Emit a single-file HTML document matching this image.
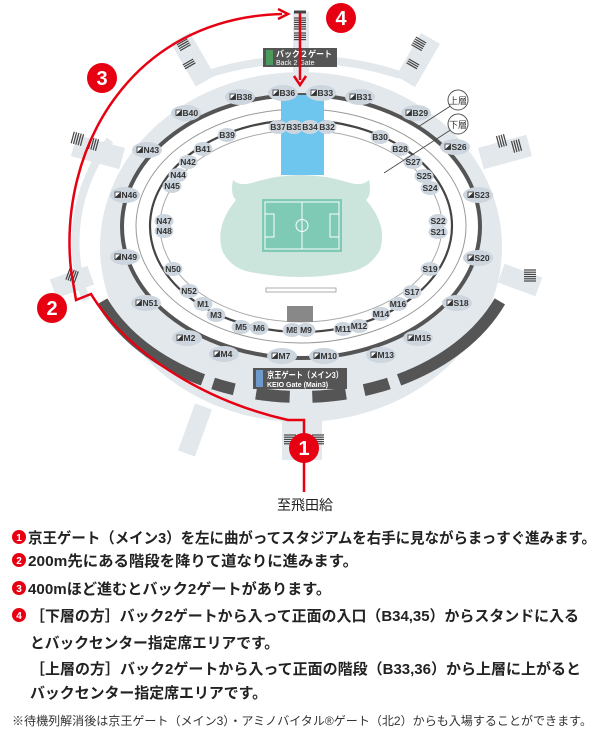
<!DOCTYPE html>
<html><head><meta charset="utf-8">
<style>
html,body{margin:0;padding:0;background:#fff;width:600px;height:750px;overflow:hidden}
svg{display:block}
.lb{font-family:"Liberation Sans",sans-serif;font-weight:bold;font-size:8.5px;fill:#333}
.jt{font-family:"Liberation Sans","Noto Sans CJK JP",sans-serif;font-weight:bold;font-size:15px;fill:#222}
</style></head><body>
<svg id="s" width="600" height="750" viewBox="0 0 600 750" xmlns="http://www.w3.org/2000/svg">
<g fill="#e3e8ec">
<rect x="293" y="12" width="16" height="80"/>
<rect x="-10" y="-25" width="22" height="50" transform="translate(192,60) rotate(-30)"/>
<rect x="-11" y="-25" width="22" height="50" transform="translate(418,60) rotate(30)"/>
<rect x="-25" y="-11" width="50" height="22" transform="translate(98,152) rotate(15)"/>
<rect x="-25" y="-11" width="50" height="22" transform="translate(505,152) rotate(-15)"/>
<rect x="-20" y="-10" width="40" height="20" transform="translate(520,280) rotate(20)"/>
<rect x="-20" y="-10" width="40" height="20" transform="translate(72,282) rotate(-20)"/>
<rect x="-9" y="-25" width="18" height="50" transform="translate(195,430) rotate(20)"/>
<rect x="282" y="415" width="40" height="45"/>
</g>
<path d="M86,300 A220,190 0 0 1 110,140" stroke="#e3e8ec" stroke-width="8" fill="none"/>
<path d="M205,75 A240,180 0 0 1 400,75" stroke="#e3e8ec" stroke-width="8" fill="none"/>
<ellipse cx="301" cy="247" rx="201" ry="175" fill="#e3e8ec"/>
<g id="stripes" stroke="#444" stroke-width="1.2"></g>
<g id="segs" stroke="#555" stroke-width="12" fill="none"></g>
<ellipse cx="301" cy="226.5" rx="179" ry="131.5" fill="#fff" stroke="#555" stroke-width="4"/>
<ellipse cx="301" cy="226" rx="165" ry="117" fill="none" stroke="#999" stroke-width="1"/>
<rect x="281" y="95" width="43" height="80" fill="#6ec6ee"/>
<ellipse cx="301" cy="226" rx="151" ry="106" fill="none" stroke="#444" stroke-width="2.2"/>
<ellipse cx="301" cy="226" rx="141" ry="96" fill="none" stroke="#aaa" stroke-width="1"/>
<rect x="281" y="118" width="43" height="57" fill="#6ec6ee"/>
<path d="M233,180 Q240,187 255,182 Q301,168 347,182 Q362,187 369,180 Q372,195 366,200 Q388,225 380,250 Q370,268 350,272 Q301,282 250,272 Q230,268 222,250 Q215,225 236,200 Q230,195 233,180Z" fill="#cbe5dd"/>
<rect x="262" y="199" width="80" height="53" fill="#7ecab5"/>
<g stroke="#fff" stroke-width="1" fill="none"><rect x="265" y="202" width="74" height="47"/><line x1="302" y1="202" x2="302" y2="249"/><circle cx="302" cy="225.5" r="6"/><rect x="265" y="214" width="9" height="23"/><rect x="330" y="214" width="9" height="23"/></g>
<rect x="266" y="288" width="70" height="4" fill="none" stroke="#999" stroke-width="0.8"/>
<rect x="287" y="306" width="26" height="16" fill="#888"/>
<g id="labels"></g>
<line x1="452" y1="105" x2="418" y2="127" stroke="#444" stroke-width="0.8"/>
<line x1="452" y1="129" x2="384" y2="173" stroke="#444" stroke-width="0.8"/>
<circle cx="458" cy="100" r="10" fill="#fff" stroke="#555"/><text x="458" y="104" font-size="9" text-anchor="middle" font-family="Liberation Sans,Noto Sans CJK JP,sans-serif" fill="#333">上層</text>
<circle cx="458" cy="124" r="10" fill="#fff" stroke="#555"/><text x="458" y="128" font-size="9" text-anchor="middle" font-family="Liberation Sans,Noto Sans CJK JP,sans-serif" fill="#333">下層</text>
<rect x="263" y="48" width="74" height="19" fill="#555"/><rect x="266" y="50" width="7" height="15" fill="#4b9a5c"/>
<text x="276" y="57" font-size="8.5" font-weight="bold" fill="#fff" font-family="Liberation Sans,Noto Sans CJK JP,sans-serif" textLength="56" lengthAdjust="spacingAndGlyphs">バック２ゲート</text>
<text x="276" y="65" font-size="7" fill="#fff" font-family="Liberation Sans,sans-serif">Back 2 Gate</text>
<rect x="253" y="368" width="94" height="21" fill="#555"/><rect x="256" y="370" width="7" height="17" fill="#6d9acb"/>
<text x="267" y="378" font-size="8.5" font-weight="bold" fill="#fff" font-family="Liberation Sans,Noto Sans CJK JP,sans-serif" textLength="76" lengthAdjust="spacingAndGlyphs">京王ゲート（メイン3）</text>
<text x="267" y="387" font-size="7" font-weight="bold" fill="#fff" font-family="Liberation Sans,sans-serif">KEIO Gate (Main3)</text>
<g stroke="#e60012" stroke-width="2.5" fill="none">
<path d="M304,492 L304,420 L288,420 C200,400 125,350 91,294 L76,300 L71,270 C58,150 130,18 282,14"/>
<path d="M300,12 L300,80"/>
<line x1="294" y1="12" x2="306" y2="12" stroke="#444" stroke-width="3"/>
</g>
<path d="M278,9 L288,14 L278,19" stroke="#e60012" stroke-width="2.5" fill="none"/>
<path d="M294,76 L300,85 L306,76" stroke="#e60012" stroke-width="2.5" fill="none"/>
<g font-family="Liberation Sans,sans-serif" font-weight="bold" fill="#fff" text-anchor="middle">
<circle cx="341" cy="18" r="15" fill="#e60012"/><text x="341" y="25" font-size="20">4</text>
<circle cx="102" cy="78" r="15" fill="#e60012"/><text x="102" y="85" font-size="20">3</text>
<circle cx="52" cy="308" r="15" fill="#e60012"/><text x="52" y="315" font-size="20">2</text>
<circle cx="304" cy="448" r="15" fill="#e60012"/><text x="304" y="455" font-size="20">1</text>
</g>
<text x="305" y="510" font-size="14" text-anchor="middle" font-family="Liberation Sans,Noto Sans CJK JP,sans-serif" fill="#222">至飛田給</text>
<g font-family="Liberation Sans,sans-serif" font-weight="bold" font-size="10" fill="#fff" text-anchor="middle">
<circle cx="19" cy="537" r="7" fill="#e60012"/><text x="19" y="541">1</text>
<circle cx="19" cy="560" r="7" fill="#e60012"/><text x="19" y="564">2</text>
<circle cx="19" cy="588" r="7" fill="#e60012"/><text x="19" y="592">3</text>
<circle cx="19" cy="615" r="7" fill="#e60012"/><text x="19" y="619">4</text>
</g>
<text class="jt" x="28" y="543" textLength="568" lengthAdjust="spacingAndGlyphs">京王ゲート（メイン3）を左に曲がってスタジアムを右手に見ながらまっすぐ進みます。</text>
<text class="jt" x="28" y="566" textLength="330" lengthAdjust="spacingAndGlyphs">200m先にある階段を降りて道なりに進みます。</text>
<text class="jt" x="28" y="594" textLength="303" lengthAdjust="spacingAndGlyphs">400mほど進むとバック2ゲートがあります。</text>
<text class="jt" x="30" y="621" textLength="549" lengthAdjust="spacingAndGlyphs">［下層の方］バック2ゲートから入って正面の入口（B34,35）からスタンドに入る</text>
<text class="jt" x="30" y="648" textLength="249" lengthAdjust="spacingAndGlyphs">とバックセンター指定席エリアです。</text>
<text class="jt" x="30" y="674" textLength="551" lengthAdjust="spacingAndGlyphs">［上層の方］バック2ゲートから入って正面の階段（B33,36）から上層に上がると</text>
<text class="jt" x="30" y="698" textLength="237" lengthAdjust="spacingAndGlyphs">バックセンター指定席エリアです。</text>
<text x="12" y="725" font-size="12" fill="#333" font-family="Liberation Sans,Noto Sans CJK JP,sans-serif" textLength="580" lengthAdjust="spacingAndGlyphs">※待機列解消後は京王ゲート（メイン3）・アミノバイタル®ゲート（北2）からも入場することができます。</text>
</svg>
<script>
var NS="http://www.w3.org/2000/svg";
function el(t,a,p){var e=document.createElementNS(NS,t);for(var k in a)e.setAttribute(k,a[k]);p.appendChild(e);return e;}
var segs=document.getElementById('segs');
var cx=301,cy=240,rx=216,ry=157;
[[117,157],[23,63],[108,114],[93,102],[78,87],[66,73]].forEach(function(r){
 var a1=r[0]*Math.PI/180,a2=r[1]*Math.PI/180;
 el('path',{d:'M'+(cx+rx*Math.cos(a1))+','+(cy+ry*Math.sin(a1))+' A'+rx+','+ry+' 0 0 1 '+(cx+rx*Math.cos(a2))+','+(cy+ry*Math.sin(a2))},segs);
});
var st=document.getElementById('stripes');
function stripes(x,y,w,n,dy,rot){var g=el('g',{transform:'translate('+x+','+y+') rotate('+rot+')'},st);for(var i=0;i<n;i++)el('line',{x1:-w/2,y1:i*dy,x2:w/2,y2:i*dy},g);}
stripes(300,18,12,6,2.2,0);stripes(300,33,12,4,2.2,0);
stripes(181,40,12,5,2.2,-30);stripes(188,62,12,3,2.2,-30);
stripes(421,40,12,5,2.2,30);stripes(414,62,12,3,2.2,30);
stripes(82,140,12,5,2.4,105);stripes(97,145,12,4,2.4,105);
stripes(505,140,12,4,2.4,75);stripes(520,145,12,4,2.4,75);
stripes(530,270,12,6,2.2,0);stripes(68,274,12,5,2.2,-70);
stripes(290,435,12,5,2.2,0);stripes(318,435,12,5,2.2,0);
var L=document.getElementById('labels');
var outer=[["B38",240,97],["B36",283,93],["B33",321,93],["B31",360,97],["B40",186,113],["B29",416,113],["N43",147,150],["S26",455,147],["N46",125,195],["S23",478,195],["N49",125,257],["S20",478,258],["N51",146,303],["S18",457,303],["M2",187,338],["M15",418,338],["M4",224,354],["M13",381,355],["M7",282,356],["M10",324,356]];
var inner=[["B37",278,127],["B35",294,127],["B34",310,127],["B32",327,127],["B39",227,135],["B30",380,137],["B41",203,149],["B28",400,149],["N42",188,162],["S27",413,162],["N44",178,175],["S25",424,176],["N45",172,186],["S24",430,188],["N47",164,221],["S22",438,221],["N48",164,231],["S21",438,232],["N50",173,269],["S19",430,269],["N52",189,291],["S17",412,292],["M1",203,304],["M16",398,304],["M3",216,315],["M14",381,314],["M5",241,327],["M6",259,328],["M8",292,330],["M9",306,330],["M11",343,329],["M12",359,326]];
outer.forEach(function(o){el('ellipse',{cx:o[1],cy:o[2],rx:15,ry:8,fill:'#cdd6de'},L);
 el('rect',{x:o[1]-10,y:o[2]-3,width:5.5,height:5.5,fill:'#fff',stroke:'#333','stroke-width':0.8},L);
 el('path',{d:'M'+(o[1]-10)+','+(o[2]+2.5)+' l5.5,-5.5 v5.5z',fill:'#333'},L);
 var t=el('text',{x:o[1]-3.5,y:o[2]+3.2,'class':'lb'},L);t.textContent=o[0];});
inner.forEach(function(o){el('ellipse',{cx:o[1],cy:o[2],rx:9.5,ry:7,fill:'#cdd6de'},L);
 var t=el('text',{x:o[1],y:o[2]+3.2,'class':'lb','text-anchor':'middle'},L);t.textContent=o[0];});
</script>
</body></html>
